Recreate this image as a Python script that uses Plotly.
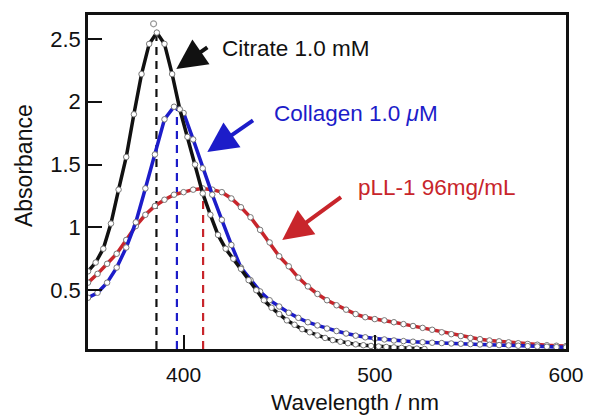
import plotly.graph_objects as go

# Absorption spectra (wavelength in nm, absorbance)
citrate_wl = [350, 354, 358, 362, 366, 370, 374, 378, 382, 386, 390, 394, 398,
              402, 406, 410, 414, 418, 422, 426, 430, 434, 438, 442, 446, 450,
              454, 458, 462, 466, 470, 474, 478, 482, 486, 490, 494, 498, 502,
              506, 510, 514, 518, 522, 526]
citrate_abs = [0.65, 0.72, 0.83, 1.03, 1.30, 1.56, 1.90, 2.22, 2.46, 2.55, 2.46,
               2.22, 1.94, 1.72, 1.50, 1.27, 1.10, 0.94, 0.83, 0.75, 0.67, 0.58,
               0.50, 0.42, 0.36, 0.31, 0.26, 0.225, 0.19, 0.165, 0.14, 0.12,
               0.103, 0.09, 0.078, 0.069, 0.062, 0.056, 0.052, 0.048, 0.045,
               0.041, 0.038, 0.035, 0.032]

collagen_wl = list(range(350, 601, 5))
collagen_abs = [0.44, 0.48, 0.56, 0.68, 0.84, 1.04, 1.31, 1.58, 1.86, 1.96, 1.91,
                1.70, 1.47, 1.26, 1.06, 0.86, 0.68, 0.58, 0.49, 0.42, 0.37, 0.32,
                0.28, 0.245, 0.22, 0.195, 0.175, 0.155, 0.138, 0.125, 0.115,
                0.108, 0.10, 0.095, 0.09, 0.086, 0.082, 0.079, 0.076, 0.074,
                0.071, 0.068, 0.066, 0.063, 0.061, 0.058, 0.055, 0.052, 0.05,
                0.047, 0.045]

pll_wl = list(range(350, 601, 5))
pll_abs = [0.56, 0.63, 0.71, 0.79, 0.90, 1.01, 1.10, 1.17, 1.22, 1.26, 1.28, 1.30,
           1.31, 1.30, 1.28, 1.23, 1.16, 1.08, 0.98, 0.88, 0.77, 0.69, 0.60, 0.53,
           0.47, 0.42, 0.38, 0.345, 0.31, 0.285, 0.27, 0.26, 0.245, 0.23, 0.215,
           0.20, 0.185, 0.165, 0.15, 0.135, 0.12, 0.11, 0.10, 0.093, 0.085,
           0.078, 0.072, 0.066, 0.062, 0.058, 0.055]

# Stray point above the citrate maximum
stray_wl = [384.3]
stray_abs = [2.62]

# Peak maxima marked by dashed drop lines
peak_wl = [385.8, 396.5, 410.2]
peak_abs = [2.52, 1.97, 1.29]

labels = ["Citrate 1.0 mM", "Collagen 1.0 <i>\u03bc</i>M", "pLL-1 96mg/mL"]
colors = ["#111111", "#1c1cc9", "#c8252b"]

x_ticks = [400, 500, 600]
y_ticks = [0.5, 1, 1.5, 2, 2.5]
y_tick_text = ["0.5", "1", "1.5", "2", "2.5"]

FONT = "Liberation Sans, Arial, sans-serif"
Y_MIN = 0.032

W, H = 596, 417
ML, MR, MT, MB = 88, 19, 14, 68

fig = go.Figure()

for wl, pk, col in zip(peak_wl, peak_abs, colors):
    fig.add_trace(go.Scatter(
        x=[wl, wl], y=[Y_MIN, pk], mode="lines",
        line=dict(color=col, width=2.2, dash="8px,6px"),
        hoverinfo="skip", showlegend=False))

series = [(pll_wl, pll_abs), (collagen_wl, collagen_abs), (citrate_wl, citrate_abs)]
for (wl, ab), col in zip(series, [colors[2], colors[1], colors[0]]):
    fig.add_trace(go.Scatter(
        x=wl, y=ab, mode="lines+markers",
        line=dict(color=col, width=3.5),
        marker=dict(size=5.5, color="white", line=dict(color="#777777", width=1)),
        showlegend=False))

fig.add_trace(go.Scatter(
    x=stray_wl, y=stray_abs, mode="markers",
    marker=dict(size=6, color="white", line=dict(color="#999999", width=1.2)),
    showlegend=False))

# Labels with pointing arrows
label_pos = [(419, 2.42), (446, 1.91), (490, 1.32)]
arrow_tip = [(396.2, 2.26), (412.4, 1.60), (451.6, 0.90)]
arrow_tail = [(413.2, 2.44), (437.1, 1.86), (483.1, 1.25)]

for text, col, (tx, ty), (hx, hy), (sx, sy) in zip(labels, colors, label_pos,
                                                   arrow_tip, arrow_tail):
    fig.add_annotation(x=tx, y=ty, text=text, showarrow=False, xanchor="left",
                       yanchor="middle", font=dict(family=FONT, size=22.5, color=col))
    fig.add_annotation(x=hx, y=hy, ax=sx, ay=sy, axref="x", ayref="y",
                       text="", showarrow=True, arrowhead=2, arrowsize=1.5,
                       arrowwidth=4, arrowcolor=col, standoff=0, startstandoff=0)


def px_to_paper(px, py):
    """Convert a figure pixel position to paper coordinates."""
    return (px - ML) / (W - ML - MR), (H - MB - py) / (H - MT - MB)


# Axis titles
ax_x, ax_y = px_to_paper(22, 165)
fig.add_annotation(x=ax_x, y=ax_y, xref="paper", yref="paper", text="Absorbance",
                   showarrow=False, textangle=-90, xanchor="center", yanchor="middle",
                   font=dict(family=FONT, size=23, color="#111111"))
wl_x, wl_y = px_to_paper(361, 403)
fig.add_annotation(x=wl_x, y=wl_y, xref="paper", yref="paper", text="Wavelength / nm",
                   showarrow=False, xanchor="center", yanchor="middle",
                   font=dict(family=FONT, size=22.5, color="#111111"))

fig.update_layout(
    width=W, height=H,
    margin=dict(l=ML, r=MR, t=MT, b=MB),
    paper_bgcolor="white", plot_bgcolor="white",
    font=dict(family=FONT, size=21, color="#111111"),
    xaxis=dict(range=[350, 600], tickvals=x_ticks, ticks="inside", ticklen=14,
               tickwidth=2, tickcolor="#111111", showline=True, linewidth=2.5,
               linecolor="#111111", mirror=True, showgrid=False, zeroline=False,
               ticklabelstandoff=5),
    yaxis=dict(range=[Y_MIN, 2.69], tickvals=y_ticks, ticktext=y_tick_text,
               ticks="inside", ticklen=14, tickwidth=2, tickcolor="#111111",
               showline=True, linewidth=2.5, linecolor="#111111", mirror=True,
               showgrid=False, zeroline=False, tickfont=dict(size=22)),
)

fig.write_html("out.html")
